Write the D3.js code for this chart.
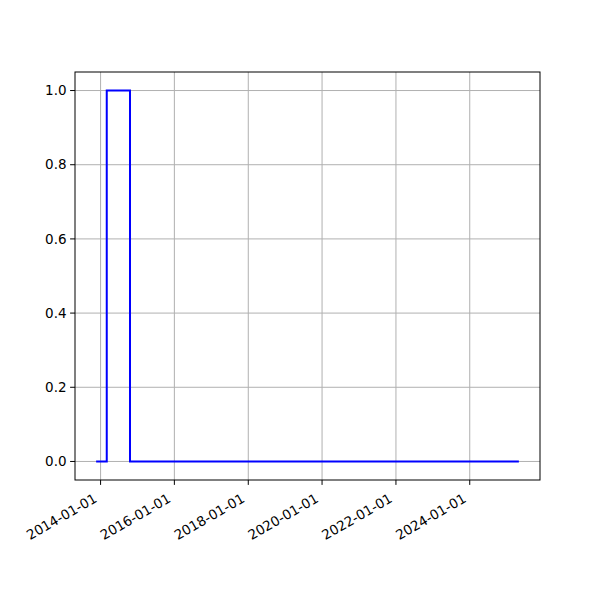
<!DOCTYPE html>
<html><head><meta charset="utf-8">
<script src="https://cdn.jsdelivr.net/npm/d3@7"></script>
<style>body{margin:0;background:#fff}text{font-family:"DejaVu Sans",sans-serif}</style>
</head><body><svg id="c" width="600" height="600"></svg>
<script>
const dates = ["2013-11-18","2014-03-03","2014-10-19","2025-05-01"];
const values = [0, 1, 0, 0];
const xTickLabels = ["2014-01-01","2016-01-01","2018-01-01","2020-01-01","2022-01-01","2024-01-01"];
const yTickLabels = ["0.0","0.2","0.4","0.6","0.8","1.0"];

const parse = d3.utcParse("%Y-%m-%d");
const data = dates.map((d,i)=>({t:parse(d), v:values[i]}));
const L=75,R=540,T=72,B=480;
const svg = d3.select("#c");
const t0=data[0].t, t1=data[data.length-1].t, span=t1-t0;
const x = d3.scaleUtc().domain([new Date(+t0-span*0.05), new Date(+t1+span*0.05)]).range([L,R]);
const y = d3.scaleLinear().domain([-0.05,1.05]).range([B,T]);
const xt = xTickLabels.map(parse);
const yt = yTickLabels.map(Number);
const fs = 13.5;

// grid
svg.append("g").selectAll("line").data(xt).join("line")
  .attr("x1",d=>x(d)).attr("x2",d=>x(d)).attr("y1",T).attr("y2",B)
  .attr("stroke","#b0b0b0").attr("stroke-width",1);
svg.append("g").selectAll("line").data(yt).join("line")
  .attr("x1",L).attr("x2",R).attr("y1",d=>y(d)).attr("y2",d=>y(d))
  .attr("stroke","#b0b0b0").attr("stroke-width",1);

// line
svg.append("path").datum(data)
  .attr("d", d3.line().x(d=>x(d.t)).y(d=>y(d.v)).curve(d3.curveStepAfter))
  .attr("fill","none").attr("stroke","#0000ff").attr("stroke-width",2);

// frame
svg.append("rect").attr("x",L).attr("y",T).attr("width",R-L).attr("height",B-T)
  .attr("fill","none").attr("stroke","#000").attr("stroke-width",1);

// x ticks
const gx = svg.append("g");
gx.selectAll("line").data(xt).join("line")
  .attr("x1",d=>x(d)).attr("x2",d=>x(d)).attr("y1",B).attr("y2",B+4.9)
  .attr("stroke","#000").attr("stroke-width",1);
gx.selectAll("text").data(xt).join("text")
  .attr("transform",d=>`translate(${x(d)-5},${B+17}) rotate(-30)`)
  .attr("text-anchor","end").attr("font-size",fs).attr("dy","0.35em")
  .text((d,i)=>xTickLabels[i]);

// y ticks
const gy = svg.append("g");
gy.selectAll("line").data(yt).join("line")
  .attr("x1",L-4.9).attr("x2",L).attr("y1",d=>y(d)).attr("y2",d=>y(d))
  .attr("stroke","#000").attr("stroke-width",1);
gy.selectAll("text").data(yt).join("text")
  .attr("x",L-8.4).attr("y",d=>y(d)).attr("dy","0.35em")
  .attr("text-anchor","end").attr("font-size",fs)
  .text((d,i)=>yTickLabels[i]);
</script></body></html>
